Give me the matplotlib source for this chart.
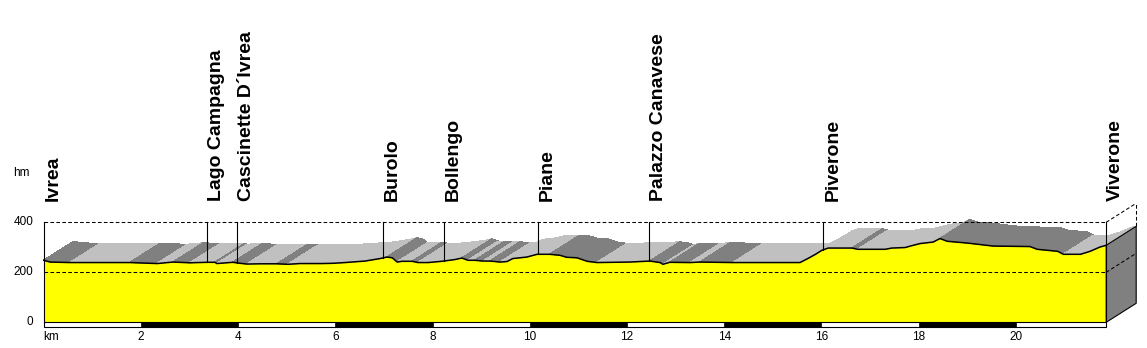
import matplotlib
matplotlib.use('Agg')
import matplotlib.pyplot as plt
from matplotlib.patches import Polygon, Rectangle
import numpy as np

# ---- data ----
km = [0.00, 0.13, 0.33, 0.54, 1.36, 1.77, 2.33, 2.66, 3.01, 3.36, 3.52, 3.56, 3.89,
      4.04, 4.18, 4.45, 4.80, 5.02, 5.27, 5.72, 5.95, 6.20, 6.61, 6.92, 7.06, 7.17,
      7.27, 7.37, 7.58, 7.70, 7.91, 8.19, 8.46, 8.60, 8.73, 8.87, 9.04, 9.18, 9.39,
      9.53, 9.65, 9.94, 10.15, 10.41, 10.62, 10.76, 10.97, 11.18, 11.38, 12.06,
      12.47, 12.68, 12.74, 12.88, 13.30, 13.50, 14.18, 14.88, 15.56, 15.72, 15.87,
      16.01, 16.14, 16.63, 16.75, 17.04, 17.31, 17.45, 17.72, 17.89, 18.03, 18.30,
      18.44, 18.59, 19.00, 19.53, 20.29, 20.44, 20.65, 20.86, 20.98, 21.33, 21.53,
      21.73, 21.86]
elev = [248, 241, 240, 239, 239, 239, 235, 241, 238, 240, 240, 235, 240,
        236, 233, 234, 234, 232, 235, 235, 236, 239, 245, 255, 261, 258,
        241, 244, 244, 239, 239, 244, 251, 257, 248, 248, 245, 245, 241,
        243, 255, 261, 272, 272, 268, 260, 258, 244, 239, 241,
        245, 239, 232, 240, 239, 241, 239, 239, 239, 255, 271,
        288, 297, 297, 292, 292, 292, 297, 299, 308, 315, 321,
        335, 324, 317, 305, 303, 292, 288, 284, 272, 272, 284,
        301, 308]

places = ["Ivrea", "Lago Campagna", "Cascinette D\u00b4Ivrea", "Burolo", "Bollengo",
          "Piane", "Palazzo Canavese", "Piverone", "Viverone"]
place_km = [0.0, 3.35, 3.97, 6.97, 8.24, 10.17, 12.45, 16.04, 21.86]

y_ticks = [0, 200, 400]
x_ticks = [2, 4, 6, 8, 10, 12, 14, 16, 18, 20]

# ---- figure ----
W, H = 1147, 348
fig = plt.figure(figsize=(W / 100, H / 100), dpi=100)
ax = fig.add_axes([0, 0, 1, 1])
ax.axis('off')
px_km = 48.6
x0_px = 43.8
px_m = 0.25
y0_px = 322.3
ax.set_xlim(-x0_px / px_km, (W - x0_px) / px_km)
ax.set_ylim(-(H - y0_px) / px_m, y0_px / px_m)

DX = 30 / px_km
DY = 19 / px_m
LIGHT = '#c0c0c0'
DARK = '#808080'
x = np.array(km, dtype=float)
z = np.array(elev, dtype=float)
x_end = x[-1]
z_end = z[-1]
dash = (0, (3.5, 2.2))

# 3D top band
for i in range(len(x) - 1):
    col = DARK if z[i + 1] < z[i] else LIGHT
    poly = Polygon([(x[i], z[i]), (x[i + 1], z[i + 1]),
                    (x[i + 1] + DX, z[i + 1] + DY), (x[i] + DX, z[i] + DY)],
                   closed=True, facecolor=col, edgecolor=col, lw=0.4,
                   antialiased=False, zorder=1)
    ax.add_patch(poly)

# front yellow face
ax.fill_between(x, 0, z, color='#ffff00', lw=0, zorder=2)

# right side face
side = Polygon([(x_end, 0), (x_end, z_end), (x_end + DX, z_end + DY), (x_end + DX, DY)],
               closed=True, facecolor=DARK, edgecolor='black', lw=0.8, zorder=3)
ax.add_patch(side)

# dashed grid lines
for yv in [200, 400]:
    ax.plot([0, x_end], [yv, yv], color='black', ls=dash, lw=0.75, zorder=4)
    ax.plot([x_end, x_end + DX], [yv, yv + DY], color='black', ls=dash, lw=0.75, zorder=4)
ax.plot([x_end + DX, x_end + DX], [z_end + DY, 400 + DY], color='black', ls=dash,
        lw=0.75, zorder=4)

# profile line
ax.plot(x, z, color='black', lw=1.1, zorder=5)

# left and right front verticals
ax.plot([0, 0], [0, 400], color='black', lw=0.8, zorder=5)
ax.plot([x_end, x_end], [0, 400], color='black', lw=0.8, zorder=5)

# km bar
bar_h = 18
ax.add_patch(Rectangle((0, -bar_h), x_end, bar_h, facecolor='white',
                       edgecolor='black', lw=0.8, zorder=5))
for k in range(2, int(x_end), 4):
    ax.add_patch(Rectangle((k, -bar_h), min(2, x_end - k), bar_h, facecolor='black',
                           edgecolor='black', lw=0.5, zorder=6))

# place lines and labels
for name, pk in zip(places, place_km):
    ze = np.interp(pk, x, z)
    if 0 < pk < x_end - 0.01:
        ax.plot([pk, pk], [ze, 400], color='black', lw=0.8, zorder=5)
    ax.text(pk + 0.02, 484, name, rotation=90, ha='left', va='bottom',
            fontsize=14, fontweight='bold', family='Liberation Sans', zorder=7)

# axis labels
tick_font = dict(fontsize=8.5, family='Liberation Sans', color='black')
for yv in y_ticks:
    ax.text(-0.215, yv, str(yv), ha='right', va='center', **tick_font)
for xv in x_ticks:
    ax.text(xv, -58, str(xv), ha='center', va='center', **tick_font)
ax.text(-0.02, -58, 'km', ha='left', va='center', **tick_font)
ax.text(-0.64, 597, 'hm', ha='left', va='center', **tick_font)

fig.savefig('out.png', dpi=100)
